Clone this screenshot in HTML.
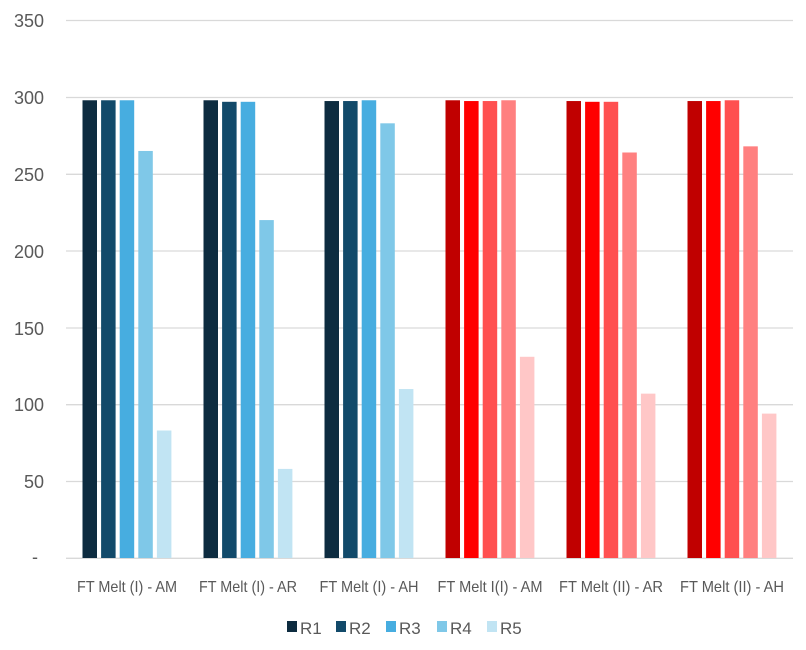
<!DOCTYPE html>
<html><head><meta charset="utf-8"><style>html,body{margin:0;padding:0;background:#fff}</style></head>
<body>
<svg width="806" height="645" xmlns="http://www.w3.org/2000/svg" font-family="Liberation Sans, sans-serif" fill="#595959">
<g stroke="#d9d9d9" stroke-width="1.3">
<line x1="66" x2="793" y1="20.5" y2="20.5"/><line x1="66" x2="793" y1="97.5" y2="97.5"/>
<line x1="66" x2="793" y1="174.3" y2="174.3"/><line x1="66" x2="793" y1="251" y2="251"/>
<line x1="66" x2="793" y1="328" y2="328"/><line x1="66" x2="793" y1="404.7" y2="404.7"/>
<line x1="66" x2="793" y1="481.5" y2="481.5"/><line x1="66" x2="793" y1="558.3" y2="558.3"/>
</g>
<g font-size="18" text-anchor="end">
<text x="44" y="27">350</text><text x="44" y="104">300</text><text x="44" y="181">250</text>
<text x="44" y="258">200</text><text x="44" y="335">150</text><text x="44" y="411">100</text>
<text x="44" y="488">50</text><text x="38" y="563">-</text>
</g>
<g id="bars"></g>
<g font-size="16" text-anchor="middle">
<text x="127" y="592" textLength="100" lengthAdjust="spacingAndGlyphs">FT Melt (I) - AM</text>
<text x="248" y="592" textLength="98" lengthAdjust="spacingAndGlyphs">FT Melt (I) - AR</text>
<text x="369" y="592" textLength="99" lengthAdjust="spacingAndGlyphs">FT Melt (I) - AH</text>
<text x="490" y="592" textLength="105" lengthAdjust="spacingAndGlyphs">FT Melt I(I) - AM</text>
<text x="611" y="592" textLength="104" lengthAdjust="spacingAndGlyphs">FT Melt (II) - AR</text>
<text x="732" y="592" textLength="104" lengthAdjust="spacingAndGlyphs">FT Melt (II) - AH</text>
</g>
<g font-size="17">
<rect x="287" y="621" width="10" height="11" fill="#0d2c40"/><text x="300" y="634">R1</text>
<rect x="336" y="621" width="10" height="11" fill="#124a6a"/><text x="349" y="634">R2</text>
<rect x="386" y="621" width="10" height="11" fill="#47ade0"/><text x="399" y="634">R3</text>
<rect x="437" y="621" width="10" height="11" fill="#7fc8e8"/><text x="450" y="634">R4</text>
<rect x="487" y="621" width="10" height="11" fill="#c1e4f3"/><text x="500" y="634">R5</text>
</g>
</svg>
<script>
var data=[[298,298,298,265,83],[298,297,297,220,58],[297.5,297.5,298,283,110],[298,297.5,297.5,298,131],[297.5,297,297,264,107],[297.5,297.5,298,268,94]];
var blue=["#0d2c40","#124a6a","#47ade0","#7fc8e8","#c1e4f3"],red=["#c00000","#ff0000","#ff5050","#ff8080","#ffc7c7"];
var g=document.getElementById("bars"),s="";
for(var i=0;i<6;i++)for(var j=0;j<5;j++){var v=data[i][j],h=v*1.536,x=82.5+i*121+j*18.6;
s+='<rect x="'+x+'" y="'+(558-h)+'" width="14.5" height="'+h+'" fill="'+(i<3?blue:red)[j]+'"/>';}
g.innerHTML=s;
</script>
</body></html>
